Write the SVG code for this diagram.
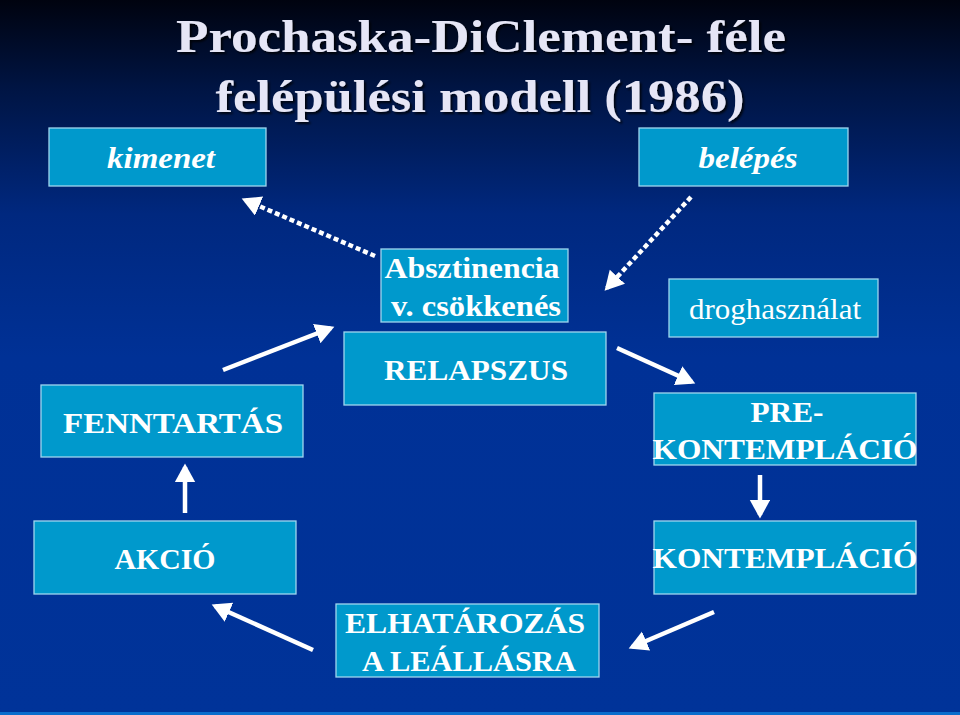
<svg xmlns="http://www.w3.org/2000/svg" width="960" height="715" viewBox="0 0 960 715">
<defs>
<linearGradient id="bg" x1="0" y1="0" x2="0" y2="1">
<stop offset="0" stop-color="#00030f"/>
<stop offset="0.12" stop-color="#001442"/>
<stop offset="0.3" stop-color="#00287f"/>
<stop offset="0.5" stop-color="#003196"/>
<stop offset="1" stop-color="#003399"/>
</linearGradient>
<marker id="ah" markerWidth="5" markerHeight="5" refX="3.4" refY="2.3" orient="auto" markerUnits="strokeWidth">
<path d="M0,0 L4.2,2.3 L0,4.6 Z" fill="#ffffff"/>
</marker>
<filter id="sh" x="-5%" y="-20%" width="110%" height="140%">
<feDropShadow dx="2" dy="2" stdDeviation="0.8" flood-color="#000000" flood-opacity="0.8"/>
</filter>
</defs>
<style>
.box{fill:#0099cc;stroke:#9fd6ee;stroke-width:1.3}
.t{font-family:"Liberation Serif",serif;font-weight:bold;font-size:30px;fill:#ffffff;text-anchor:middle}
.it{font-style:italic}
.rg{font-weight:normal}
.title{font-family:"Liberation Serif",serif;font-weight:bold;font-size:47px;fill:#e6e6f6;text-anchor:middle}
.a{stroke:#ffffff;stroke-width:4.5;fill:none;marker-end:url(#ah)}
.d{stroke-dasharray:5 3}
</style>
<rect x="0" y="0" width="960" height="715" fill="url(#bg)"/>
<rect x="0" y="712" width="960" height="3" fill="#0a6ccc"/>
<g id="title" filter="url(#sh)">
<text class="title" x="481" y="52" textLength="610" lengthAdjust="spacingAndGlyphs">Prochaska-DiClement- féle</text>
<text class="title" x="480" y="112" textLength="529" lengthAdjust="spacingAndGlyphs">felépülési modell (1986)</text>
</g>
<g id="kimenet"><rect class="box" x="49" y="128" width="217" height="58"/><text class="t it" x="161" y="168" textLength="108" lengthAdjust="spacingAndGlyphs">kimenet</text></g>
<g id="belepes"><rect class="box" x="639" y="128" width="209" height="58"/><text class="t it" x="748" y="168" textLength="99" lengthAdjust="spacingAndGlyphs">belépés</text></g>
<g id="absztinencia"><rect class="box" x="381" y="249" width="187" height="73"/><text class="t" x="472" y="278" textLength="175" lengthAdjust="spacingAndGlyphs">Absztinencia</text><text class="t" x="476" y="316" textLength="170" lengthAdjust="spacingAndGlyphs">v. csökkenés</text></g>
<g id="relapszus"><rect class="box" x="344" y="332" width="262" height="73"/><text class="t" x="476" y="380" textLength="184" lengthAdjust="spacingAndGlyphs">RELAPSZUS</text></g>
<g id="droghasznalat"><rect class="box" x="669" y="279" width="209" height="58"/><text class="t rg" x="775" y="319" textLength="172" lengthAdjust="spacingAndGlyphs">droghasználat</text></g>
<g id="fenntartas"><rect class="box" x="41" y="385" width="262" height="72"/><text class="t" x="173" y="433" textLength="220" lengthAdjust="spacingAndGlyphs">FENNTARTÁS</text></g>
<g id="prekontemplacio"><rect class="box" x="654" y="393" width="262" height="72"/><text class="t" x="787" y="422" textLength="73" lengthAdjust="spacingAndGlyphs">PRE-</text><text class="t" x="785" y="459" textLength="265" lengthAdjust="spacingAndGlyphs">KONTEMPLÁCIÓ</text></g>
<g id="akcio"><rect class="box" x="34" y="521" width="262" height="73"/><text class="t" x="165" y="569" textLength="101" lengthAdjust="spacingAndGlyphs">AKCIÓ</text></g>
<g id="kontemplacio"><rect class="box" x="654" y="521" width="262" height="73"/><text class="t" x="785" y="568" textLength="265" lengthAdjust="spacingAndGlyphs">KONTEMPLÁCIÓ</text></g>
<g id="elhatarozas"><rect class="box" x="336" y="604" width="263" height="73"/><text class="t" x="465" y="633" textLength="240" lengthAdjust="spacingAndGlyphs">ELHATÁROZÁS</text><text class="t" x="469" y="671" textLength="214" lengthAdjust="spacingAndGlyphs">A LEÁLLÁSRA</text></g>
<g id="connectors">
<line class="a d" x1="375" y1="256" x2="245" y2="200"/>
<line class="a d" x1="691" y1="197" x2="607" y2="288"/>
<line class="a" x1="223" y1="370" x2="331" y2="328"/>
<line class="a" x1="617" y1="348" x2="692" y2="382"/>
<line class="a" x1="760" y1="475" x2="760" y2="515"/>
<line class="a" x1="714" y1="612" x2="632" y2="647"/>
<line class="a" x1="313" y1="650" x2="215" y2="606"/>
<line class="a" x1="185" y1="513" x2="185" y2="467"/>
</g>
</svg>
